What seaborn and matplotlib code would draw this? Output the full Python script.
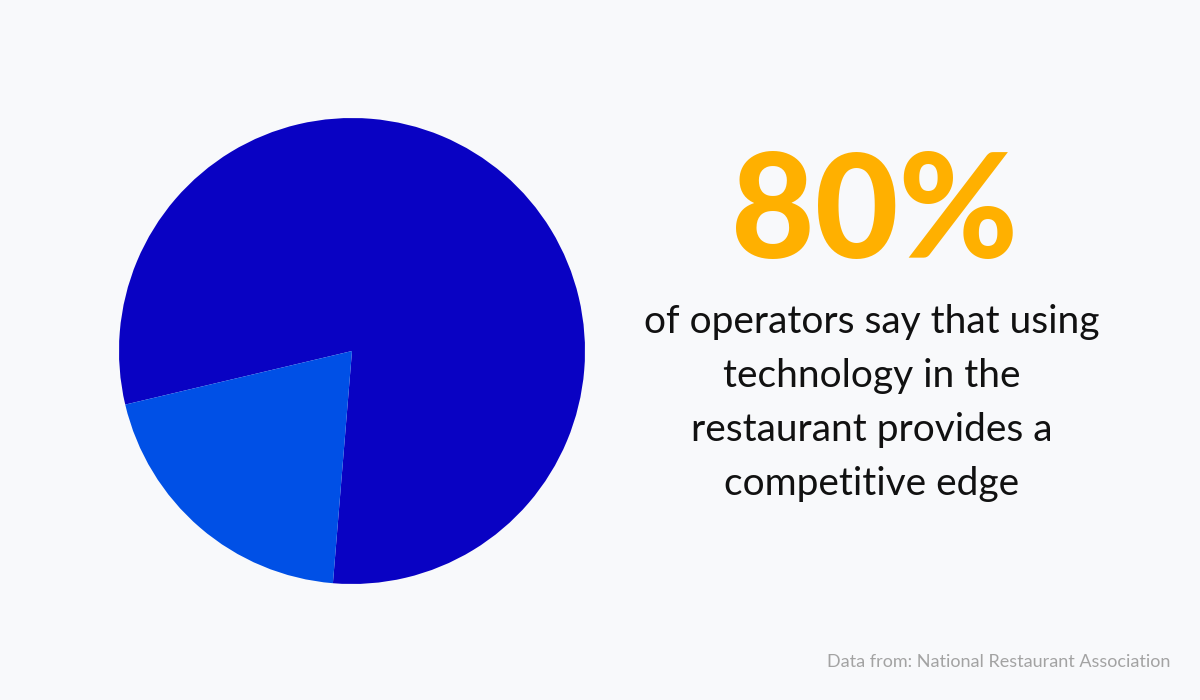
import matplotlib
matplotlib.use("Agg")
import matplotlib.pyplot as plt
import seaborn as sns

# data
labels = ["Provides a competitive edge", "Other"]
shares = [80, 20]
slice_colors = ["#0902C3", "#0050E6"]
headline = "80%"
body_text = "of operators say that using\ntechnology in the\nrestaurant provides a\ncompetitive edge"
source_text = "Data from: National Restaurant Association"

bg = "#F8F9FB"
sns.set_theme(style="white")
plt.rcParams["font.family"] = ["Lato", "DejaVu Sans"]

fig = plt.figure(figsize=(12, 7), dpi=100, facecolor=bg)

# pie axes, square in pixels: centre (352, 351), radius 233
cx, cy, r = 352, 351, 233
ax = fig.add_axes([(cx - r) / 1200, (700 - cy - r) / 700, 2 * r / 1200, 2 * r / 700])
ax.set_facecolor(bg)
ax.pie(shares, colors=slice_colors, startangle=265.3, counterclock=True,
       radius=1, wedgeprops=dict(linewidth=0))
ax.set_xlim(-1, 1)
ax.set_ylim(-1, 1)
ax.set_aspect("equal")
ax.axis("off")

fig.text(874 / 1200, 1 - 258 / 700, headline, ha="center", va="baseline",
         fontsize=104, fontweight="black", color="#FFB000")
fig.text(872 / 1200, 1 - 403 / 700, body_text, ha="center", va="center",
         multialignment="center", fontsize=28, color="#111111", linespacing=1.62)
fig.text(1170 / 1200, 1 - 667 / 700, source_text, ha="right", va="baseline",
         fontsize=13, color="#A3A3A3")

fig.savefig("out.png", dpi=100, facecolor=bg)
